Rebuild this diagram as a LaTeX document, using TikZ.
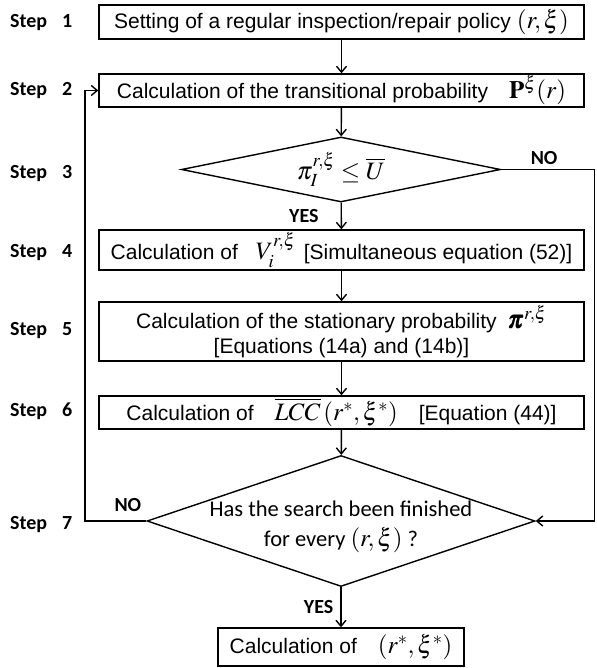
\documentclass[tikz,border=0pt]{standalone}
\usepackage{amsmath}
\usepackage{mathptmx}
\usepackage[no-math]{fontspec}
\setmainfont{Liberation Sans}
\newfontfamily\calibri{Carlito}
\usetikzlibrary{shapes.geometric, arrows.meta}

\newcommand\eqsize{\fontsize{25}{28}\selectfont}

\tikzset{
  stepbox/.style={draw, line width=1.4pt, inner sep=0pt, minimum width=485pt,
    font=\fontsize{21}{25}\selectfont},
  decision/.style={draw, diamond, line width=1.4pt, inner sep=0pt},
  steplabel/.style={anchor=west, inner sep=0pt,
    font=\calibri\bfseries\fontsize{20}{24}\selectfont},
  answer/.style={inner sep=0pt, font=\calibri\bfseries\fontsize{20}{24}\selectfont},
  flow/.style={-{Straight Barb[length=6pt, width=10pt]}, line width=1.4pt},
}

\begin{document}
\begin{tikzpicture}[x=1pt, y=-1pt]
  \useasboundingbox (0,0) rectangle (596,668);

  % step names on the left
  \node[steplabel] (step1) at (10,23) {Step\hspace{15pt}1};
  \node[steplabel] (step2) at (10,91) {Step\hspace{15pt}2};
  \node[steplabel] (step3) at (10,174) {Step\hspace{15pt}3};
  \node[steplabel] (step4) at (10,253) {Step\hspace{15pt}4};
  \node[steplabel] (step5) at (10,331) {Step\hspace{15pt}5};
  \node[steplabel] (step6) at (10,411) {Step\hspace{15pt}6};
  \node[steplabel] (step7) at (10,525) {Step\hspace{15pt}7};

  % the flow
  \node[stepbox, minimum height=34pt] (set1) at (341.5,22)
    {Setting of a regular inspection/repair policy\ {\eqsize$(r,\xi)$}};
  \node[stepbox, minimum height=33pt] (calc2) at (341.5,90.5)
    {Calculation of the transitional probability\quad {\eqsize$\mathbf{P}^{\xi}(r)$}};
  \node[decision, aspect=4.9, minimum width=319pt, minimum height=65pt] (check3)
    at (341,169.5) {\eqsize$\pi_I^{r,\xi}\le\overline{U}$};
  \node[stepbox, minimum height=40pt] (calc4) at (341.5,250)
    {Calculation of\hspace{18pt}{\eqsize$V_i^{r,\xi}$}\hspace{8pt}[Simultaneous equation (52)]};
  \node[stepbox, minimum height=59pt, align=center] (calc5) at (341.5,331.5)
    {Calculation of the stationary probability\ \ {\eqsize$\pmb{\pi}^{r,\xi}$}\\
     {[Equations (14a) and (14b)]}};
  \node[stepbox, minimum height=33pt] (calc6) at (341.5,412.5)
    {Calculation of\quad {\eqsize$\overline{LCC}\,(r^{*},\xi^{*})$}\quad [Equation (44)]};
  \node[decision, minimum width=388pt, minimum height=131pt] (check7) at (341,521) {};
  \node[align=center, font=\calibri\fontsize{22.5}{30}\selectfont] (query7) at (341,527)
    {Has the search been finished\\ for every\ {\eqsize$(r,\xi)$}\ ?};
  \node[stepbox, minimum width=246pt, minimum height=38pt] (result) at (341,647)
    {Calculation of\quad {\eqsize$(r^{*},\xi^{*})$}};

  \coordinate (loopL) at (85,521);
  \coordinate (loopR) at (594.5,169.5);

  \draw[flow] (set1) -- (calc2);
  \draw[flow] (calc2) -- (check3);
  \draw[flow] (check3) -- node[answer, left=22pt] (yes3) {YES} (calc4);
  \draw[flow] (calc4) -- (calc5);
  \draw[flow] (calc5) -- (calc6);
  \draw[flow] (calc6) -- (check7);
  \draw[flow] (check7) -- node[answer, left=7pt] (yes7) {YES} (result);
  \draw[flow] (check7.west) -- node[answer, above=9pt, pos=0.3] (no7) {NO} (loopL)
    |- (calc2.west);
  \draw[flow] (check3.east) -- node[answer, above=4pt, pos=0.46] (no3) {NO} (loopR)
    |- (check7.east);
\end{tikzpicture}
\end{document}
